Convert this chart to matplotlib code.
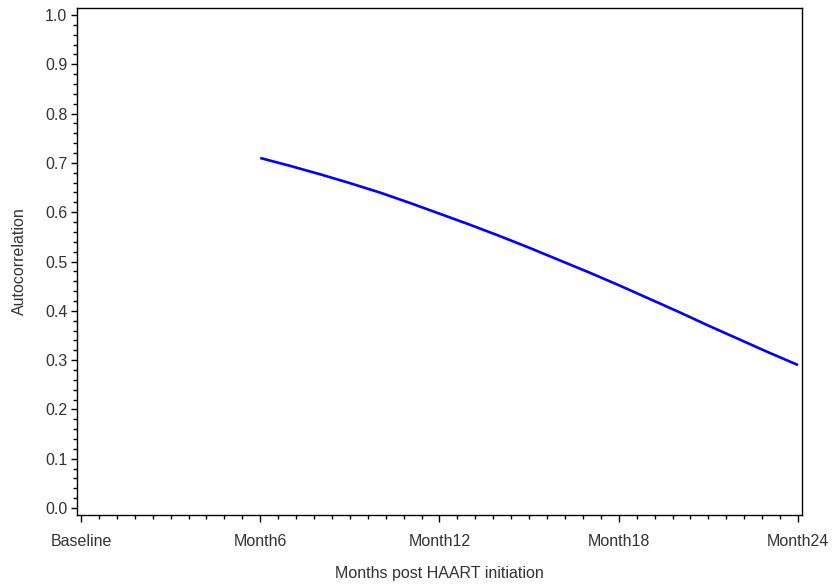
import numpy as np
import matplotlib
matplotlib.use("Agg")
import matplotlib.pyplot as plt
from matplotlib.ticker import MultipleLocator

plt.rcParams['font.family'] = ['Liberation Sans', 'DejaVu Sans']

# Autocorrelation vs. Month 6 over months after HAART initiation
months = [6, 7, 8, 9, 10, 11, 12, 13, 14, 15, 16, 17, 18, 19, 20, 21, 22, 23, 24]
autocorr = [0.710, 0.694, 0.677, 0.659, 0.640, 0.619, 0.597, 0.575, 0.552, 0.528,
            0.503, 0.478, 0.452, 0.425, 0.398, 0.370, 0.343, 0.316, 0.290]

tick_months = [0, 6, 12, 18, 24]
tick_labels = ["Baseline", "Month6", "Month12", "Month18", "Month24"]

fig = plt.figure(figsize=(8.32, 5.86), dpi=100)
ax = fig.add_axes([77 / 832, 1 - 515 / 586, 725 / 832, 507 / 586])

ax.plot(months, autocorr, color="#0000ff", linewidth=1.9, solid_capstyle="butt")

ax.set_xlim(-0.134, 24.134)
ax.set_ylim(-0.0142, 1.0142)

ax.set_xticks(tick_months)
ax.set_xticklabels(tick_labels)
ax.xaxis.set_minor_locator(MultipleLocator(0.6))
ax.set_yticks(np.arange(0, 1.01, 0.1))
ax.set_yticklabels([f"{v:.1f}" for v in np.arange(0, 1.01, 0.1)])
ax.yaxis.set_minor_locator(MultipleLocator(0.02))

ax.tick_params(which="major", width=1, color="black", labelsize=11.5, labelcolor="#333333")
ax.tick_params(which="minor", length=3, width=1, color="black")
ax.tick_params(axis="x", which="major", length=5, pad=9)
ax.tick_params(axis="y", which="major", length=4, pad=3)

for s in ax.spines.values():
    s.set_linewidth(1)
    s.set_color("black")

ax.set_xlabel("Months post HAART initiation", fontsize=11.5, color="#333333", labelpad=12)
ax.set_ylabel("Autocorrelation", fontsize=11.5, color="#333333", labelpad=13)

fig.savefig("out.png", dpi=100)
